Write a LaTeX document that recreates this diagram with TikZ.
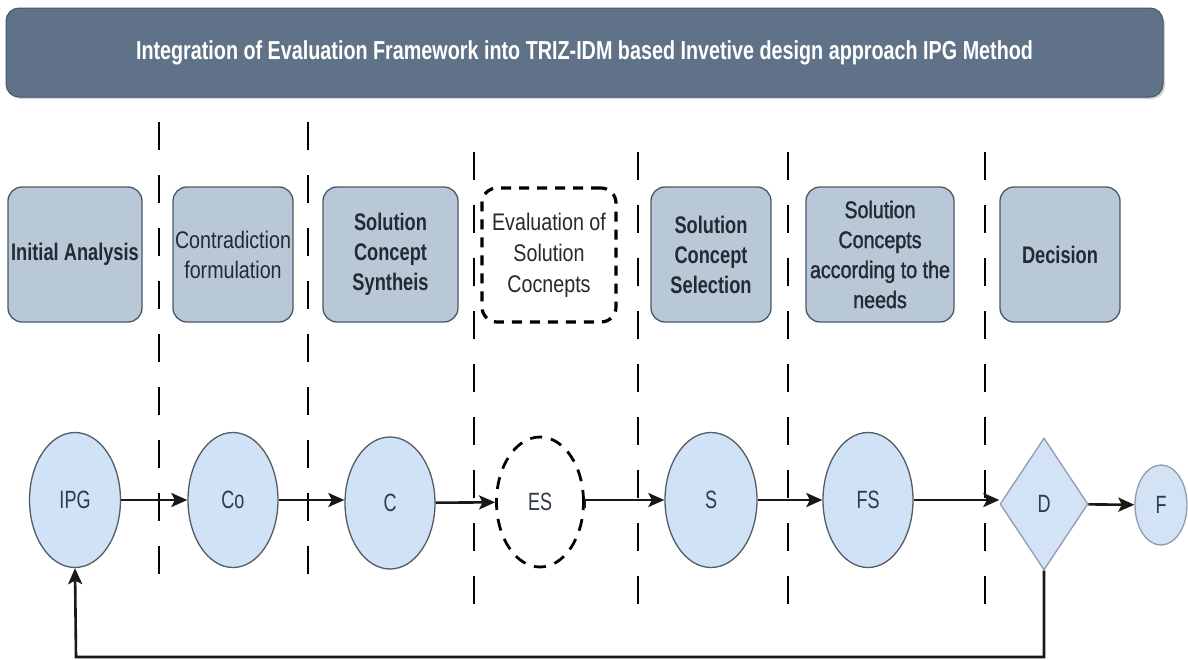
\documentclass[tikz,border=0pt]{standalone}
\usepackage{fontspec}
\setmainfont{Liberation Sans}
\newfontfamily\nbold{Liberation Sans}[FakeStretch=0.76]
\newfontfamily\nneeds{Liberation Sans}[FakeStretch=0.82,FakeBold=1.3]
\newfontfamily\nreg{Liberation Sans}[FakeStretch=0.82]
\newfontfamily\nlab{Liberation Sans}[FakeStretch=0.72]
\newfontfamily\ntitle{Liberation Sans}[FakeStretch=0.76]
\usetikzlibrary{shapes.geometric,arrows.meta,calc}
\definecolor{titlefill}{HTML}{607287}
\definecolor{titledraw}{HTML}{46566A}
\definecolor{boxfill}{HTML}{B8C8D7}
\definecolor{boxdraw}{HTML}{4A5866}
\definecolor{ellfill}{HTML}{CFE2F6}
\definecolor{elldraw}{HTML}{555B63}
\definecolor{dfill}{HTML}{D3E2F4}
\definecolor{ddraw}{HTML}{8C9DB0}
\definecolor{txt}{HTML}{232A31}
\definecolor{ntxt}{HTML}{2E3B4A}
\begin{document}
\begin{tikzpicture}[x=1pt,y=-1pt,
  titlebox/.style={rectangle,rounded corners=13pt,draw=titledraw,line width=1pt,fill=titlefill,
    minimum width=1157pt,minimum height=89pt,inner sep=0pt,text=white,
    font=\ntitle\bfseries\fontsize{26pt}{30pt}\selectfont},
  stagebox/.style={rectangle,rounded corners=14pt,draw=boxdraw,line width=1.3pt,fill=boxfill,
    minimum height=135pt,inner sep=1pt,align=center,text=txt,
    font=\nbold\bfseries\fontsize{24pt}{30pt}\selectfont},
  regtext/.style={font=\nreg\fontsize{24pt}{30pt}\selectfont},
  evalbox/.style={rectangle,rounded corners=15pt,draw=black,line width=3.2pt,
    dash pattern=on 10pt off 8pt,fill=white,minimum height=134pt,inner sep=1pt,align=center,text=txt,
    font=\nreg\fontsize{24pt}{31pt}\selectfont},
  stagenode/.style={ellipse,draw=elldraw,line width=1.3pt,fill=ellfill,inner sep=0pt,
    text=ntxt,font=\nlab\fontsize{25pt}{28pt}\selectfont},
  esnode/.style={ellipse,draw=black,line width=2.8pt,dash pattern=on 12pt off 9pt,fill=white,
    inner sep=0pt,minimum width=87pt,minimum height=130pt,text=ntxt,font=\nlab\fontsize{25pt}{28pt}\selectfont},
  decnode/.style={diamond,draw=ddraw,line width=1.3pt,fill=dfill,inner sep=0pt,
    minimum width=88pt,minimum height=132pt,text=ntxt,font=\nlab\fontsize{25pt}{28pt}\selectfont},
  vline/.style={line width=1.3pt,black,dash pattern=on 28pt off 25pt},
  arr/.style={line width=2.6pt,draw=black!90,-{Stealth[length=16pt,width=14pt,inset=3.5pt]}}
]
\useasboundingbox (0,0) rectangle (1188,659);
\fill[white] (0,0) rectangle (1188,659);

% title
\fill[black!18,rounded corners=13pt] (8,11) rectangle (1165,99);
\node[titlebox] (title) at (584.5,52.5) {Integration of Evaluation Framework into TRIZ-IDM based Invetive design approach IPG Method};

% vertical dashed separators
\foreach \x/\a/\b in {159/122/592,308/122/592,474/152/614,638/152/614,788/152/614,985/152/614}
  \draw[vline] (\x,\a) -- (\x,\b);

% stage boxes
\node[stagebox,minimum width=134pt] (ia) at (75,254.5) {Initial Analysis};
\node[stagebox,minimum width=120pt,regtext] (cf) at (233,254.5) {Contradiction\\formulation};
\node[stagebox,minimum width=135pt] (scs) at (390.5,254.5) {Solution\\Concept\\Syntheis};
\node[evalbox,minimum width=134pt] (ev) at (549,255) {Evaluation of\\Solution\\Cocnepts};
\node[stagebox,minimum width=120pt] (sel) at (711,254.5) {Solution\\Concept\\Selection};
\node[stagebox,minimum width=148pt,font=\nneeds\fontsize{24pt}{30pt}\selectfont] (nd) at (880,254.5) {Solution\\Concepts\\according to the\\needs};
\node[stagebox,minimum width=120pt] (dec) at (1060,254.5) {Decision};

% process nodes
\node[stagenode,minimum width=91pt,minimum height=135pt] (ipg) at (75,500) {IPG};
\node[stagenode,minimum width=90pt,minimum height=135pt] (co) at (233,500) {Co};
\node[stagenode,minimum width=90pt,minimum height=132pt] (c) at (390,503) {C};
\node[esnode] (es) at (540,502) {ES};
\node[stagenode,minimum width=92pt,minimum height=135pt] (s) at (711,500) {S};
\node[stagenode,minimum width=90pt,minimum height=135pt] (fs) at (868,500) {FS};
\node[decnode] (d) at (1044,504) {D};
\node[stagenode,fill=dfill,draw=ddraw,minimum width=52pt,minimum height=80pt] (f) at (1161,505) {F};

% connectors
\draw[arr] (ipg) -- (co);
\draw[arr] (co.east) -- (co.east -| c.west);
\draw[arr] (c) -- (es);
\draw[arr] ($(es.east)+(0,6)$) |- (s.west);
\draw[arr] (s) -- (fs);
\draw[arr] (fs.east) -- (fs.east -| d.west);
\draw[arr] (d) -- (f);
\coordinate (fb) at (76,657);
\draw[arr] (d.south) |- (fb) -- (ipg.south);
\end{tikzpicture}
\end{document}
